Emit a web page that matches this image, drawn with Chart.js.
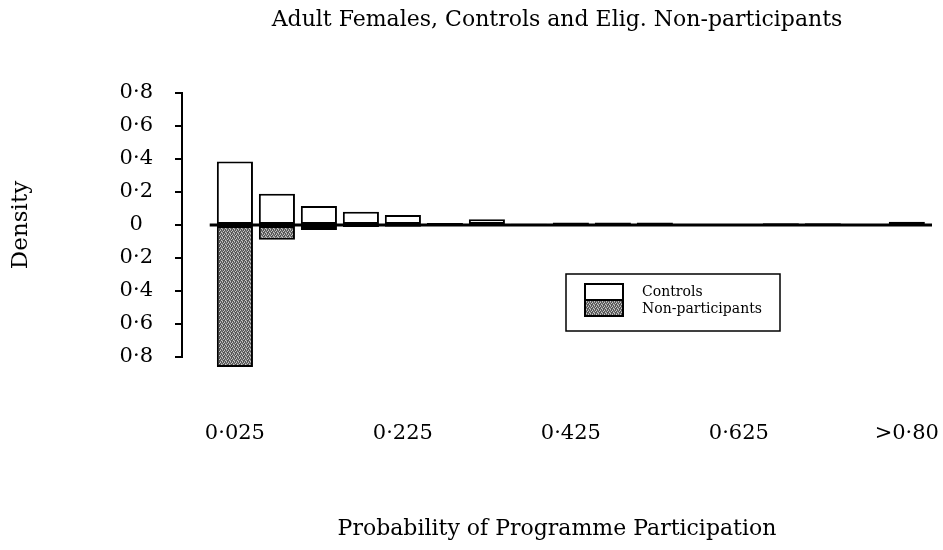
<!DOCTYPE html>
<html>
<head>
<meta charset="utf-8">
<script src="https://cdn.jsdelivr.net/npm/chart.js@4/dist/chart.umd.min.js"></script>
<style>
  html, body { margin: 0; padding: 0; background: #fff; }
  #wrap { position: relative; width: 943px; height: 550px; }
</style>
</head>
<body>
<div id="wrap"><canvas id="c" width="943" height="550"></canvas></div>
<script>
// Bin midpoints (probability of programme participation)
const categories = ['0·025','0·075','0·125','0·175','0·225','0·275','0·325','0·375','0·425','0·475','0·525','0·575','0·625','0·675','0·725','0·775','>0·80'];
// Densities
const controls        = [0.385, 0.19, 0.115, 0.08, 0.06, 0.012, 0.035, 0.008, 0.015, 0.015, 0.015, 0.005, 0.005, 0.01, 0.01, 0.003, 0.02];
const nonParticipants = [0.86, 0.09, 0.03, 0.012, 0.01, 0.005, 0.003, 0.002, 0.002, 0.002, 0.002, 0.001, 0.001, 0.002, 0.002, 0.001, 0.003];
// Tick labels
const xTickIndices = [0, 4, 8, 12, 16];
const yTickValues = [-0.8, -0.6, -0.4, -0.2, 0, 0.2, 0.4, 0.6, 0.8];

const FONT = 'DejaVu Serif';

function makePattern() {
  const p = document.createElement('canvas');
  p.width = 4; p.height = 4;
  const g = p.getContext('2d');
  const map = ['dlmd', 'mdld', 'ldmd', 'dmdl'];
  const col = { d: '#555', l: '#c8c8c8', m: '#8a8a8a' };
  for (let yy = 0; yy < 4; yy++) for (let xx = 0; xx < 4; xx++) {
    g.fillStyle = col[map[yy][xx]];
    g.fillRect(xx, yy, 1, 1);
  }
  return document.getElementById('c').getContext('2d').createPattern(p, 'repeat');
}
const pattern = makePattern();

const zeroLine = {
  id: 'zeroLine',
  afterDatasetsDraw(chart) {
    const { ctx, scales: { x, y }, chartArea } = chart;
    const y0 = y.getPixelForValue(0);
    ctx.save();
    ctx.strokeStyle = '#000';
    ctx.lineWidth = 3;
    ctx.beginPath();
    ctx.moveTo(x.getPixelForValue(-0.6), y0);
    ctx.lineTo(chartArea.right, y0);
    ctx.stroke();
    ctx.restore();
  }
};

const boxLegend = {
  id: 'boxLegend',
  afterDraw(chart) {
    const { ctx } = chart;
    const ds = chart.data.datasets;
    ctx.save();
    ctx.strokeStyle = '#000';
    ctx.lineWidth = 1.5;
    ctx.strokeRect(566, 274, 214, 57);
    // swatch
    ctx.fillStyle = '#fff';
    ctx.fillRect(585, 284, 38, 16);
    ctx.fillStyle = pattern;
    ctx.fillRect(585, 300, 38, 16);
    ctx.lineWidth = 2;
    ctx.strokeRect(585, 284, 38, 32);
    ctx.beginPath(); ctx.moveTo(585, 300); ctx.lineTo(623, 300); ctx.stroke();
    ctx.fillStyle = '#000';
    ctx.font = '14px "' + FONT + '"';
    ctx.textBaseline = 'middle';
    ctx.fillText(ds[0].label, 642, 292);
    ctx.fillText(ds[1].label, 642, 309);
    ctx.restore();
  }
};

new Chart(document.getElementById('c'), {
  type: 'bar',
  data: {
    datasets: [
      {
        label: 'Controls',
        data: controls.map((v, i) => ({ x: i, y: v })),
        backgroundColor: '#fff',
        borderColor: '#000',
        borderWidth: 2,
        borderSkipped: false,
        grouped: false,
        clip: false,
        barPercentage: 0.86,
        categoryPercentage: 1
      },
      {
        label: 'Non-participants',
        data: nonParticipants.map((v, i) => ({ x: i, y: -v })),
        backgroundColor: pattern,
        borderColor: '#000',
        borderWidth: 2,
        borderSkipped: false,
        grouped: false,
        clip: false,
        barPercentage: 0.86,
        categoryPercentage: 1
      }
    ]
  },
  options: {
    responsive: false,
    animation: false,
    layout: { padding: { left: 0, right: 11, top: 0, bottom: 0 } },
    plugins: { legend: { display: false }, tooltip: { enabled: false }, title: { display: false } },
    scales: {
      x: {
        type: 'linear',
        position: 'bottom',
        offset: false,
        min: -1.26,
        max: 16.6,
        grid: { display: false, drawTicks: true, tickLength: 62 },
        border: { display: false },
        ticks: {
          stepSize: 4,
          includeBounds: false,
          padding: 2,
          autoSkip: false,
          maxRotation: 0,
          color: '#000',
          font: { family: FONT, size: 21 },
          callback: (v) => xTickIndices.includes(v) ? categories[v] : ''
        },
        title: {
          display: true,
          text: 'Probability of Programme Participation',
          color: '#000',
          font: { family: FONT, size: 22 },
          padding: { top: 0, bottom: 8 }
        },
        afterFit: (s) => { s.height = 193; }
      },
      x2: {
        type: 'linear',
        position: 'top',
        axis: 'x',
        grid: { display: false, drawTicks: false },
        border: { display: false },
        ticks: { display: false },
        title: {
          display: true,
          text: 'Adult Females, Controls and Elig. Non-participants',
          color: '#000',
          font: { family: FONT, size: 22 },
          padding: { top: 7, bottom: 0 }
        },
        afterFit: (s) => { s.height = 93; }
      },
      y: {
        min: -0.8,
        max: 0.8,
        afterBuildTicks: (s) => { s.ticks = yTickValues.map(v => ({ value: v })); },
        grid: { drawOnChartArea: false, drawTicks: true, tickLength: 7, color: '#000', lineWidth: 2 },
        border: { display: true, color: '#000', width: 2 },
        ticks: {
          crossAlign: 'center',
          padding: 22,
          color: '#000',
          font: { family: FONT, size: 21 },
          callback: (v) => v === 0 ? '0' : Math.abs(v).toFixed(1).replace('.', '·')
        },
        title: {
          display: true,
          text: 'Density',
          color: '#000',
          font: { family: FONT, size: 23 },
          padding: { top: 7, bottom: 0 }
        },
        afterFit: (s) => { s.width = 182; }
      }
    }
  },
  plugins: [zeroLine, boxLegend]
});
</script>
</body>
</html>
